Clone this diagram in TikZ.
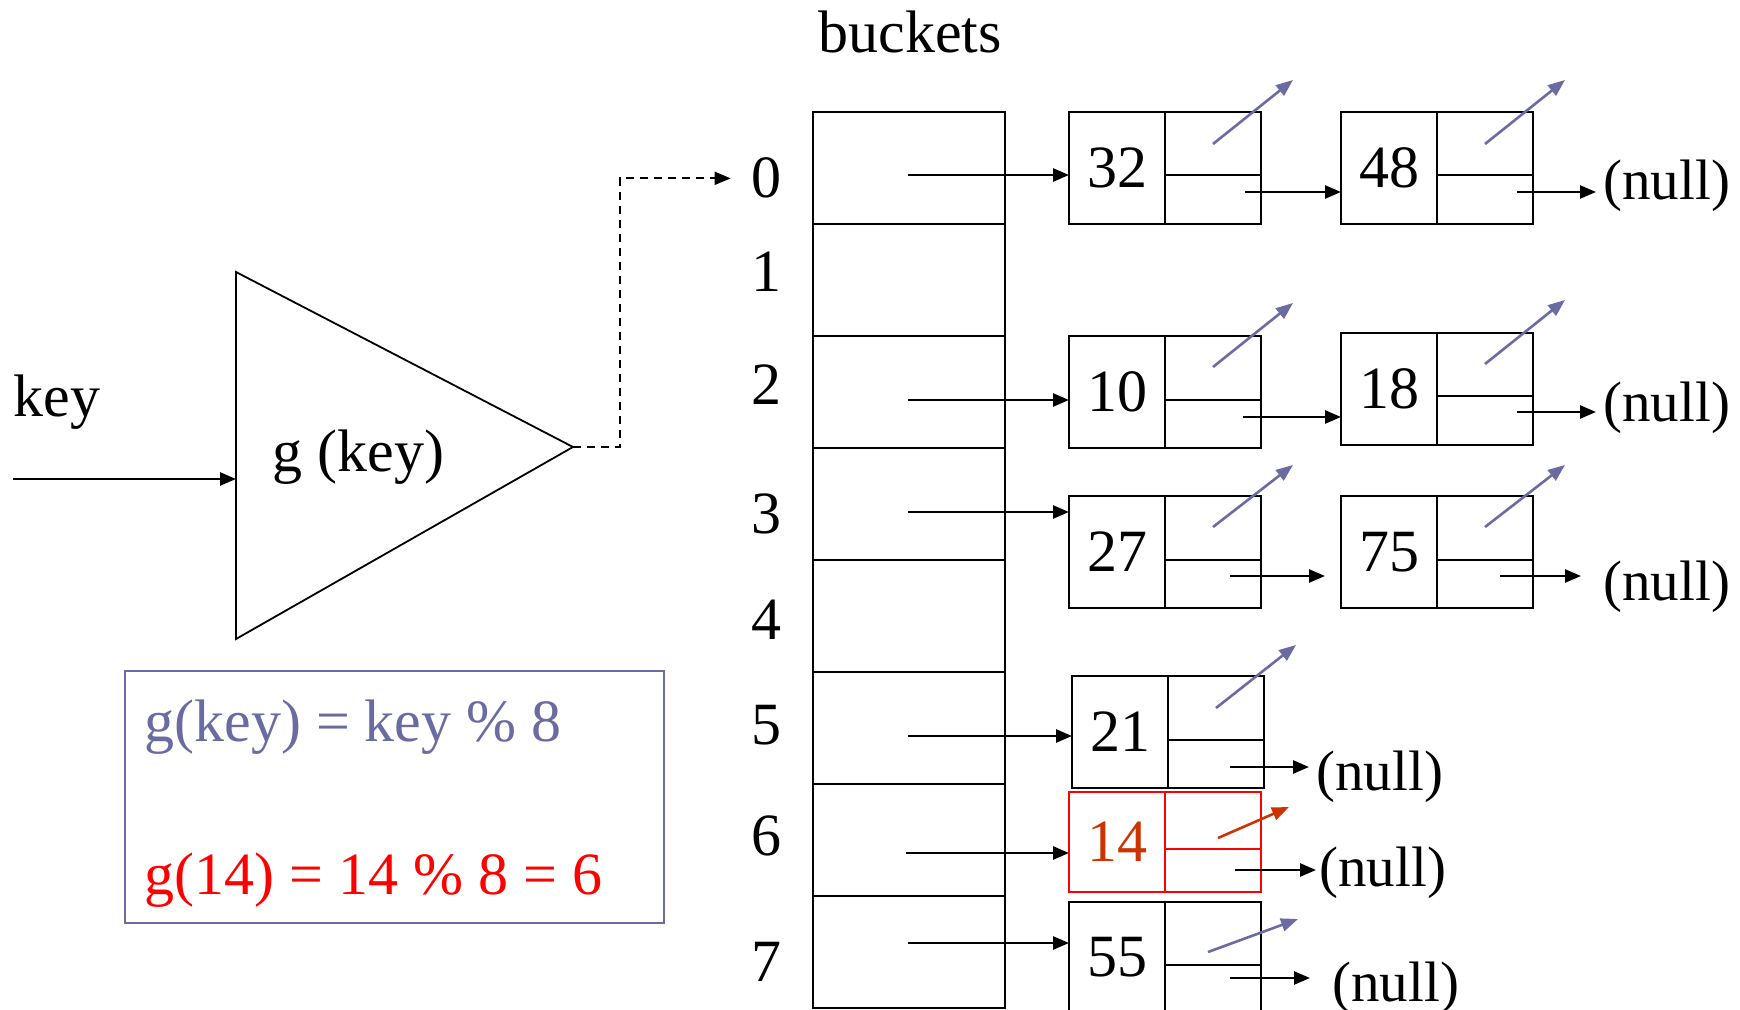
\documentclass[tikz,border=0pt]{standalone}
\usepackage{fontspec}
\setmainfont{Liberation Serif}
\usetikzlibrary{arrows.meta}
\definecolor{ptrblue}{HTML}{6B6BA3}
\definecolor{hitred}{HTML}{FF0000}
\definecolor{hitorange}{HTML}{CC3300}

\tikzset{
  txt/.style={inner sep=0pt, font=\fontsize{30}{36}\selectfont},
  nulltxt/.style={inner sep=0pt, font=\fontsize{28.5}{34}\selectfont, anchor=base west},
  cell/.style={draw, line width=1.2pt, inner sep=0pt, outer sep=0pt, minimum width=48pt, anchor=north west, txt},
  link/.style={line width=1.3pt, -{Triangle[length=8pt,width=6.5pt]}},
  uplink/.style={ptrblue, line width=1.3pt, -{Triangle[length=8.5pt,width=6.5pt]}},
}

% list node: [colour]{name}{x}{y}{height}{upper height}{value}
\newcommand{\listnode}[7][black]{%
  \node[cell, draw=#1, minimum height=#5*0.5pt] (#2v) at (#3,#4) {#7};
  \node[cell, draw=#1, minimum height=#6*0.5pt] (#2u) at (#2v.north east) {};
  \node[cell, draw=#1, minimum height=(#5-#6)*0.5pt] (#2d) at (#2u.south west) {};
}

\begin{document}
\begin{tikzpicture}[x=0.5pt,y=0.5pt,yscale=-1,xscale=1]
\useasboundingbox (0,0) rectangle (1740,1010);

%Shape: Triangle (hash function)
\coordinate (ta) at (236,272);
\coordinate (tb) at (236,639);
\coordinate (tc) at (573,447);
\draw [line width=0.9pt] (ta) -- (tc) -- (tb) -- cycle ;
% Text Node
\node [txt, anchor=base west] (gk) at (272,472) {g (key)};
% Text Node
\node [txt, anchor=base west] (key) at (13,417) {key};
%Straight Lines: key input
\coordinate (kin) at (13,479);
\draw [link] (kin) -- (kin -| ta) ;

%Shape: Rectangle (formula box)
\node [draw=ptrblue, line width=1.2pt, inner sep=0pt, outer sep=0pt, minimum width=269.5pt, minimum height=126pt, anchor=north west] (fbox) at (125,671) {};
% Text Node
\node [txt, text=ptrblue, anchor=base west] (f1) at (144,741) {g(key) = key \% 8};
% Text Node
\node [txt, text=hitred, anchor=base west] (f2) at (144,894) {g(14) = 14 \% 8 = 6};

% Text Node
\node [txt, anchor=base] (bk) at (910,53) {buckets};

%Shape: bucket array
\foreach \i in {0,...,7}
  \node [cell, minimum width=96pt, minimum height=56pt] (b\i) at (813,112+\i*112) {};
% index labels
\foreach \i/\y in {0/198,1/292,2/405,3/533,4/639,5/744,6/855,7/981}
  \node [txt, anchor=base] (i\i) at (766,\y) {\i};

%Dashed Lines: hash output to bucket 0
\draw [link, line width=1pt, dash pattern=on 4pt off 3pt] (tc) -- ++(47,0) |- ([xshift=-10pt]i0.west) ;

%Shape: list nodes
\listnode{n32}{1069}{112}{112}{63}{32}
\listnode{n48}{1341}{112}{112}{63}{48}
\listnode{n10}{1069}{336}{112}{64}{10}
\listnode{n18}{1341}{333}{112}{63}{18}
\listnode{n27}{1069}{496}{112}{64}{27}
\listnode{n75}{1341}{496}{112}{64}{75}
\listnode{n21}{1072}{676}{112}{64}{21}
\listnode[hitred]{n14}{1069}{792}{100}{57}{\textcolor{hitorange}{14}}
\listnode{n55}{1069}{902}{110}{63}{55}

%Straight Lines: bucket pointers
\coordinate (s0) at (908,175);
\coordinate (s2) at (908,400);
\coordinate (s3) at (908,512);
\coordinate (s5) at (908,736);
\coordinate (s6) at (906,853);
\coordinate (s7) at (908,943);
\draw [link] (s0) -- (s0 -| n32v.west) ;
\draw [link] (s2) -- (s2 -| n10v.west) ;
\draw [link] (s3) -- (s3 -| n27v.west) ;
\draw [link] (s5) -- (s5 -| n21v.west) ;
\draw [link] (s6) -- (s6 -| n14v.west) ;
\draw [link] (s7) -- (s7 -| n55v.west) ;

%Straight Lines: back pointers
\draw [uplink] ([shift={(48,32)}]n32u.north west) -- ++(80,-64) ;
\draw [uplink] ([shift={(48,32)}]n48u.north west) -- ++(80,-64) ;
\draw [uplink] ([shift={(48,31)}]n10u.north west) -- ++(80,-64) ;
\draw [uplink] ([shift={(48,31)}]n18u.north west) -- ++(80,-64) ;
\draw [uplink] ([shift={(48,31)}]n27u.north west) -- ++(80,-62) ;
\draw [uplink] ([shift={(48,31)}]n75u.north west) -- ++(80,-62) ;
\draw [uplink] ([shift={(48,32)}]n21u.north west) -- ++(80,-63) ;
\draw [uplink, hitorange] ([shift={(53,46)}]n14u.north west) -- ++(71,-31) ;
\draw [uplink] ([shift={(43,50)}]n55u.north west) -- ++(90,-33) ;

% Text Node: null ends
\node [nulltxt] (null0) at (1603,200) {(null)};
\node [nulltxt] (null2) at (1603,422) {(null)};
\node [nulltxt] (null3) at (1603,600) {(null)};
\node [nulltxt] (null5) at (1316,790) {(null)};
\node [nulltxt] (null6) at (1319,886) {(null)};
\node [nulltxt] (null7) at (1332,1001) {(null)};

%Straight Lines: next pointers
\coordinate (c32) at (1245,192);
\coordinate (c48) at (1517,192);
\coordinate (c10) at (1243,417);
\coordinate (c18) at (1517,412);
\coordinate (c27) at (1230,576);
\coordinate (c75) at (1500,576);
\coordinate (c21) at (1230,767);
\coordinate (c14) at (1235,870);
\coordinate (c55) at (1230,978);
\draw [link] (c32) -- (c32 -| n48v.west) ;
\draw [link, shorten >=3.5pt] (c48) -- (c48 -| null0.west) ;
\draw [link] (c10) -- (c10 -| n18v.west) ;
\draw [link, shorten >=3.5pt] (c18) -- (c18 -| null2.west) ;
\draw [link, shorten >=8pt] (c27) -- (c27 -| n75v.west) ;
\draw [link, shorten >=11pt] (c75) -- (c75 -| null3.west) ;
\draw [link, shorten >=3.5pt] (c21) -- (c21 -| null5.west) ;
\draw [link, shorten >=1.5pt] (c14) -- (c14 -| null6.west) ;
\draw [link, shorten >=11pt] (c55) -- (c55 -| null7.west) ;

\end{tikzpicture}
\end{document}
